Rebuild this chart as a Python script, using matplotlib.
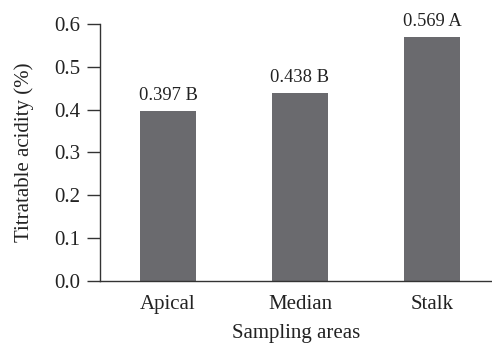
import matplotlib
matplotlib.use("Agg")
import matplotlib.pyplot as plt

areas = ["Apical", "Median", "Stalk"]
acidity = [0.397, 0.438, 0.569]
groups = ["B", "B", "A"]
yticks = [0.0, 0.1, 0.2, 0.3, 0.4, 0.5, 0.6]

plt.rcParams["font.family"] = ["Liberation Serif", "DejaVu Serif"]

fig = plt.figure(figsize=(4.92, 3.43), dpi=100)
ax = fig.add_axes([0.2033, 0.1808, 0.7967, 0.7492])

x = list(range(len(areas)))
ax.bar(x, acidity, width=0.42, color="#6a6a6e", zorder=2)

for xi, v, g in zip(x, acidity, groups):
    ax.annotate(f"{v:.3f} {g}", xy=(xi, v), xytext=(0, 8),
                textcoords="offset points", ha="center", va="baseline",
                fontsize=13.3, color="#222222")

ax.set_xlim(-0.515, 2.455)
ax.set_ylim(0, 0.6)
ax.set_yticks(yticks)
ax.set_yticklabels([f"{t:.1f}" for t in yticks])
ax.set_xticks(x)
ax.set_xticklabels(areas)

for s in ("top", "right"):
    ax.spines[s].set_visible(False)
for s in ("left", "bottom"):
    ax.spines[s].set_color("#333333")
    ax.spines[s].set_linewidth(1.0)

ax.tick_params(axis="y", direction="out", length=9.5, width=1.0,
               color="#333333", labelsize=15, pad=5, labelcolor="#222222")
ax.tick_params(axis="x", length=0, labelsize=15, pad=10, labelcolor="#222222")

ax.set_xlabel("Sampling areas", fontsize=15, color="#222222", labelpad=7)
ax.set_ylabel("Titratable acidity (%)", fontsize=15, color="#222222", labelpad=14)

fig.savefig("out.png", dpi=100)
